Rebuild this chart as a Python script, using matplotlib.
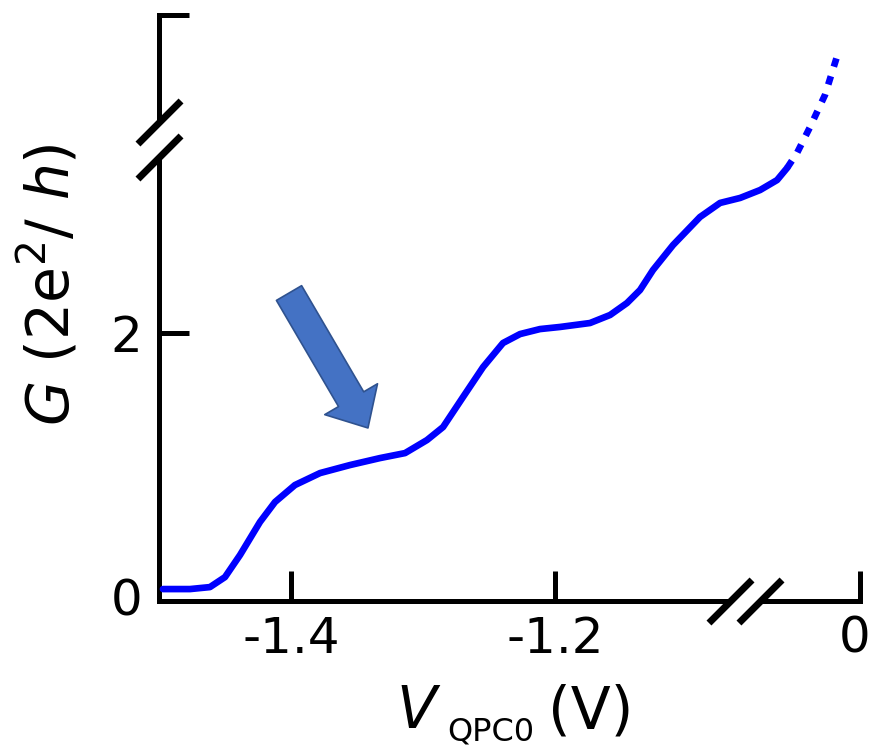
import numpy as np
import matplotlib
matplotlib.use('Agg')
import matplotlib.pyplot as plt
import matplotlib.transforms as mtransforms

# measured conductance trace (gate voltage on the compressed, broken axis scale)
v_solid = [-1.497, -1.4765, -1.4614, -1.450, -1.4386, -1.4235, -1.4121, -1.397,
           -1.378, -1.3553, -1.3326, -1.3136, -1.297, -1.2848, -1.2697, -1.2545,
           -1.2394, -1.2265, -1.2114, -1.1962, -1.1735, -1.1583, -1.1455, -1.1356,
           -1.1258, -1.1106, -1.0902, -1.075, -1.0598, -1.0447, -1.0318, -1.0242]
g_solid = [0.053, 0.053, 0.068, 0.144, 0.312, 0.563, 0.715, 0.844,
           0.935, 0.996, 1.049, 1.087, 1.186, 1.285, 1.513, 1.741,
           1.924, 1.992, 2.030, 2.046, 2.076, 2.137, 2.228, 2.327,
           2.479, 2.669, 2.882, 2.989, 3.027, 3.087, 3.163, 3.255]
# extrapolated part (dotted)
v_dot = [-1.0242, -1.0167, -1.0068, -0.9955, -0.9856]
g_dot = [3.255, 3.369, 3.567, 3.810, 4.129]

X_MIN, X_MAX = -1.5, -0.969
Y_MIN, Y_MAX = -0.038, 4.418
x_ticks = [-1.4, -1.2, X_MAX]
x_tick_labels = ['-1.4', '-1.2', '0']
y_ticks = [0, 2, Y_MAX]
y_tick_labels = ['0', '2', '']
x_breaks = [-1.0672, -1.0445]
y_breaks = [3.338, 3.608]
arrow_tail = (-1.4015, 2.304)
arrow_tip = (-1.3417, 1.278)

plt.rcParams['mathtext.fontset'] = 'dejavusans'

fig = plt.figure(figsize=(8.73, 7.47), dpi=100)
ax = fig.add_axes([0.1821, 0.1954, 0.9851 - 0.1821, 0.9799 - 0.1954])

ax.plot(v_solid, g_solid, color='#0000FF', lw=4.8, solid_capstyle='round',
        solid_joinstyle='round', zorder=3)
ax.plot(v_dot, g_dot, color='#0000FF', lw=4.8, dashes=(1.3, 1.5), zorder=3)

ax.set_xlim(X_MIN, X_MAX)
ax.set_ylim(Y_MIN, Y_MAX)

# broken spines drawn by hand
for s in ax.spines.values():
    s.set_visible(False)
lw_sp = 3.6
ax.plot([X_MIN, x_breaks[0]], [Y_MIN, Y_MIN], color='k', lw=lw_sp, clip_on=False, solid_capstyle='projecting')
ax.plot([x_breaks[1], X_MAX], [Y_MIN, Y_MIN], color='k', lw=lw_sp, clip_on=False, solid_capstyle='projecting')
ax.plot([X_MIN, X_MIN], [Y_MIN, y_breaks[0]], color='k', lw=lw_sp, clip_on=False, solid_capstyle='projecting')
ax.plot([X_MIN, X_MIN], [y_breaks[1], Y_MAX], color='k', lw=lw_sp, clip_on=False, solid_capstyle='projecting')

slash = [(-1, -1), (1, 1)]
ax.plot(x_breaks, [Y_MIN, Y_MIN], ls='none', marker=slash, markersize=31,
        mec='k', mew=5.0, clip_on=False, zorder=5)
ax.plot([X_MIN, X_MIN], y_breaks, ls='none', marker=slash, markersize=31,
        mec='k', mew=5.0, clip_on=False, zorder=5)

ax.set_xticks(x_ticks)
ax.set_xticklabels(x_tick_labels)
ax.set_yticks(y_ticks)
ax.set_yticklabels(y_tick_labels)
ax.tick_params(direction='in', length=21.6, width=3.6, labelsize=36, color='k')
ax.tick_params(axis='x', pad=10)
ax.tick_params(axis='y', pad=12)

# no tick mark at G = 0, only the label
ax.yaxis.get_major_ticks()[0].tick1line.set_visible(False)

# nudge the "0" label so it stays inside the figure
lbl = ax.get_xticklabels()[-1]
lbl.set_transform(lbl.get_transform() + mtransforms.ScaledTranslation(-5 / 100, 0, fig.dpi_scale_trans))

# arrow pointing at the shoulder
ax.annotate('', xy=arrow_tip, xytext=arrow_tail,
            arrowprops=dict(arrowstyle='simple,head_width=4.4,head_length=2.4,tail_width=2.1',
                            mutation_scale=10, fc='#4472C4', ec='#2F528F', lw=1.2,
                            shrinkA=0, shrinkB=0), zorder=4)

# axis labels
W, H = 873.0, 747.0
fig.text(396 / W, 1 - 728 / H, 'V', fontsize=42, style='italic', ha='left', va='baseline')
fig.text(447 / W, 1 - 740 / H, 'QPC0', fontsize=23, ha='left', va='baseline')
fig.text(548 / W, 1 - 728 / H, '(V)', fontsize=42, ha='left', va='baseline')
fig.text(49 / W, 1 - 285 / H, r'$G$ (2e$^2$/ $h$)', fontsize=42, rotation=90,
         ha='center', va='center')

fig.savefig('out.png', dpi=100)
